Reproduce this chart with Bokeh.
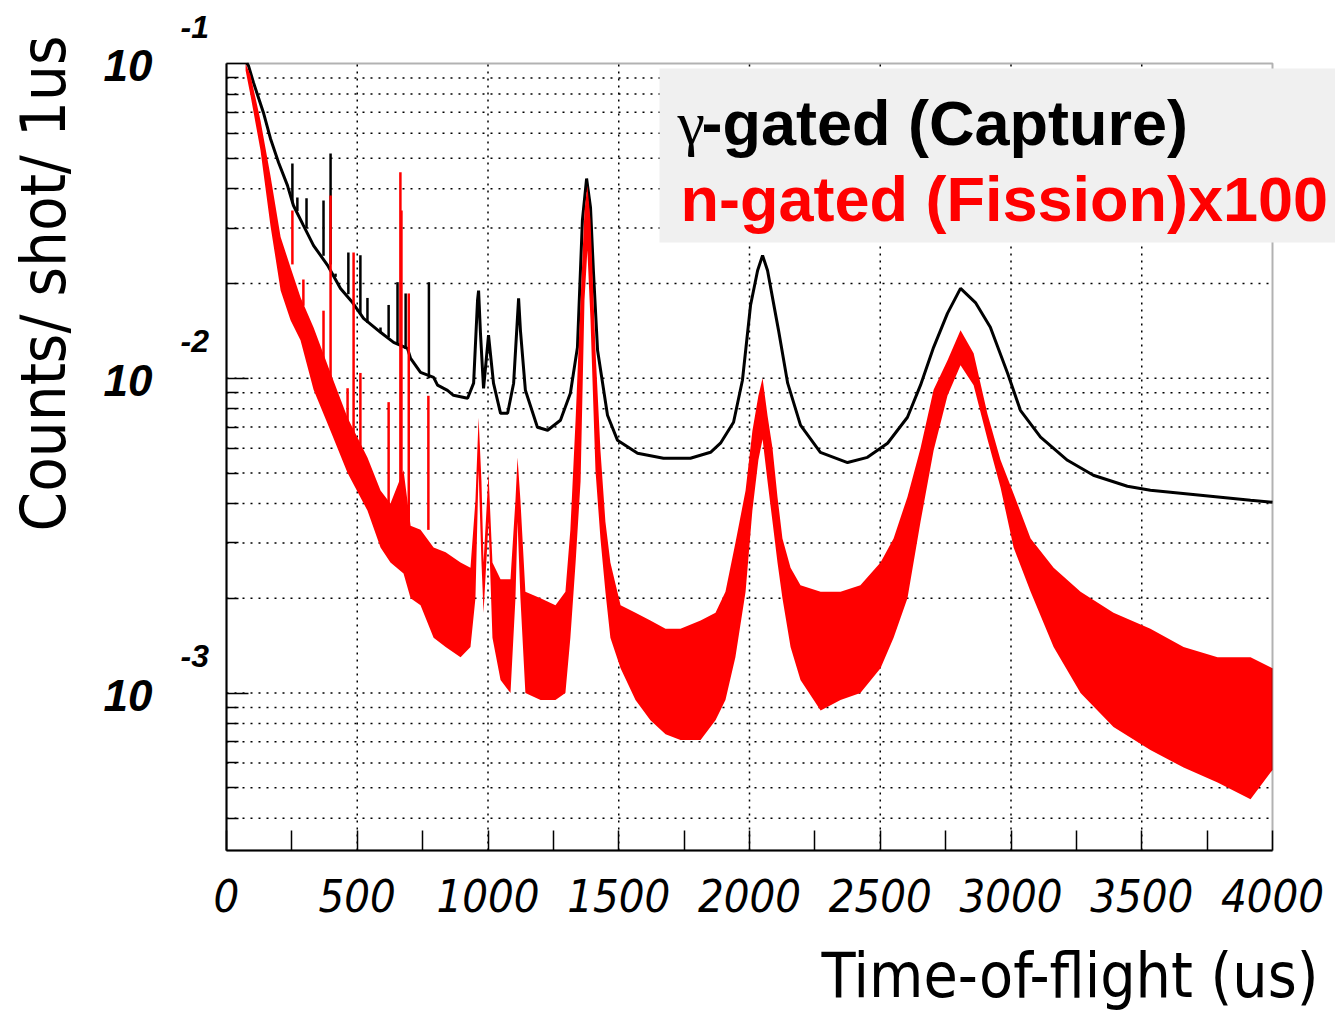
from bokeh.plotting import figure
from bokeh.models import Range1d, FixedTicker, Label, BoxAnnotation
from bokeh.embed import file_html
from bokeh.resources import INLINE
from math import pi

# ---------------- data ----------------
tof_major_ticks = [0, 500, 1000, 1500, 2000, 2500, 3000, 3500, 4000]
tof_minor_ticks = [250, 750, 1250, 1750, 2250, 2750, 3250, 3750]
y_major_ticks = [1e-3, 1e-2, 1e-1]
y_minor_ticks = [4e-4, 5e-4, 6e-4, 7e-4, 8e-4, 9e-4,
                 2e-3, 3e-3, 4e-3, 5e-3, 6e-3, 7e-3, 8e-3, 9e-3,
                 2e-2, 3e-2, 4e-2, 5e-2, 6e-2, 7e-2, 8e-2, 9e-2]
y_tick_exponents = ["-3", "-2", "-1"]

# gamma-gated (capture) spectrum
gamma_t = [78, 84, 103, 141, 168, 199, 233, 256, 294, 333, 386, 436, 482, 524,
           589, 639, 692, 704, 742, 792, 807, 845, 868, 922, 945, 960, 964, 971,
           983, 1002, 1021, 1048, 1075, 1098, 1117, 1124, 1143, 1189, 1228, 1277,
           1315, 1342, 1354, 1361, 1377, 1392, 1403, 1419, 1457, 1495, 1572, 1671,
           1774, 1851, 1889, 1939, 1973, 2004, 2031, 2050, 2069, 2092, 2111, 2146,
           2195, 2271, 2375, 2451, 2528, 2604, 2654, 2704, 2757, 2807, 2864, 2921,
           2987, 3036, 3113, 3216, 3315, 3445, 3533, 3725, 3916, 4000]
gamma_counts = [0.100, 0.0985, 0.0871, 0.0699, 0.0578, 0.0485, 0.0410, 0.0354,
                0.0306, 0.0264, 0.0229, 0.0193, 0.0174, 0.0155, 0.0140, 0.0130,
                0.01245, 0.01157, 0.01045, 0.01007, 0.00951, 0.00916, 0.00883,
                0.00864, 0.00965, 0.0177, 0.0190, 0.0140, 0.00929, 0.0137, 0.00965,
                0.00774, 0.00774, 0.00965, 0.01795, 0.0142, 0.00916, 0.00699,
                0.00684, 0.00736, 0.00896, 0.01254, 0.0225, 0.0318, 0.0431, 0.0349,
                0.0220, 0.01227, 0.00763, 0.00636, 0.00578, 0.00557, 0.00557,
                0.00582, 0.00622, 0.00725, 0.00986, 0.01706, 0.0220, 0.02457,
                0.0220, 0.0173, 0.0142, 0.00965, 0.0071, 0.00582, 0.0054, 0.00561,
                0.00622, 0.00752, 0.00951, 0.01254, 0.01608, 0.0193, 0.0174,
                0.01452, 0.01037, 0.00791, 0.0065, 0.00549, 0.00492, 0.00454,
                0.00441, 0.00425, 0.0041, 0.00404]
gamma_spike_t = [252, 271, 306, 371, 398, 417, 466, 512, 539, 589, 620, 654, 685, 774]
gamma_spike_base = [0.0360, 0.0340, 0.0300, 0.0245, 0.0230, 0.0210, 0.0185, 0.0160,
                    0.0150, 0.0140, 0.0135, 0.0128, 0.0124, 0.0100]
gamma_spike_top = [0.0481, 0.0375, 0.0373, 0.0367, 0.0518, 0.0215, 0.0251, 0.0246,
                   0.0180, 0.0145, 0.0171, 0.0202, 0.0186, 0.0202]

# n-gated (fission) x100 spectrum: noisy histogram, kept as its envelope
fission_t = [73, 92, 130, 168, 207, 245, 283, 333, 398, 463, 539, 589, 627, 677,
             704, 742, 792, 838, 895,
             933, 952, 964, 975, 983, 1002, 1017, 1048, 1086, 1105, 1113, 1124,
             1143, 1201, 1258, 1296, 1315, 1335, 1354, 1369, 1380, 1392, 1411,
             1430, 1449, 1468, 1507, 1564, 1621, 1679, 1736, 1813, 1870, 1908,
             1946, 1985, 2011, 2034, 2050, 2069, 2088, 2107, 2126, 2157, 2195,
             2272, 2348, 2424, 2501, 2551, 2604, 2654, 2704, 2757, 2807, 2857,
             2910, 2960, 3010, 3075, 3163, 3266, 3392, 3533, 3660, 3790, 3916, 4000]
fission_hi = [0.100, 0.0916, 0.0659, 0.0441, 0.0281, 0.0225, 0.0181, 0.0145,
              0.0104, 0.0075, 0.0056, 0.0044, 0.0040, 0.0051, 0.0034,
              0.0033, 0.0029, 0.0028, 0.0026, 0.0025, 0.0041, 0.0075, 0.0047,
              0.0026, 0.0050, 0.0026, 0.0023, 0.0023, 0.0041, 0.0056, 0.0041,
              0.0021, 0.0020, 0.0019, 0.0021, 0.0033, 0.0074, 0.0177, 0.0341,
              0.0410, 0.0318, 0.0123, 0.0059, 0.0035, 0.0026, 0.0019, 0.0018,
              0.0017, 0.0016, 0.0016, 0.0017, 0.0018, 0.0021, 0.0030, 0.0044,
              0.0068, 0.0088, 0.0100, 0.0076, 0.0060, 0.0042, 0.0031, 0.0025,
              0.0022, 0.0021, 0.0021, 0.0022, 0.0026, 0.0031, 0.0042, 0.0060,
              0.0092, 0.0114, 0.0142, 0.0120, 0.0077, 0.0055, 0.0043, 0.0031,
              0.0025, 0.0021, 0.0018, 0.0016, 0.0014, 0.0013, 0.0013, 0.0012]
fission_lo = [0.095, 0.0790, 0.0530, 0.0306, 0.0190, 0.0153, 0.0132, 0.0092,
              0.0068, 0.0050, 0.0038, 0.0029, 0.0026, 0.0024, 0.0020,
              0.0019, 0.0015, 0.0014, 0.0013, 0.0014, 0.0020, 0.0051, 0.0026,
              0.0018, 0.0035, 0.0015, 0.0011, 0.0010, 0.0020, 0.0035, 0.0020,
              0.0010, 0.00095, 0.00095, 0.0010, 0.0015, 0.0026, 0.0047, 0.0177,
              0.0255, 0.0153, 0.0051, 0.0031, 0.0021, 0.0015, 0.0012, 0.00095,
              0.00082, 0.00074, 0.00071, 0.00071, 0.00082, 0.00095, 0.0013,
              0.0021, 0.0038, 0.0055, 0.0064, 0.0047, 0.0035, 0.0026, 0.0020,
              0.0014, 0.0011, 0.00088, 0.00095, 0.0010, 0.0012, 0.0015, 0.0020,
              0.0035, 0.0059, 0.0088, 0.0110, 0.0095, 0.0064, 0.0045, 0.0029,
              0.0021, 0.0014, 0.0010, 0.00078, 0.00066, 0.00058, 0.00052,
              0.00046, 0.00057]
fission_spike_t = [252, 294, 371, 398, 463, 486, 512, 620, 665, 669, 697, 772]
fission_spike_base = [0.0230, 0.0170, 0.0095, 0.0090, 0.0060, 0.0060, 0.0050,
                      0.0040, 0.0040, 0.0040, 0.0035, 0.0033]
fission_spike_top = [0.0341, 0.0206, 0.0164, 0.0381, 0.0093, 0.0251, 0.0104,
                     0.0084, 0.0451, 0.0341, 0.0186, 0.0088]

# ---------------- layout (plot box position inside the 1335x1016 page) ----------
W, H = 1335, 1016
FL, FR, FT, FB = 226, 1272, 63, 850          # plot box in pixels
X0, X1 = 0, 4000                              # plot box in data
YLOG_TOP, YLOG_BOT = -1.0, -3.5
PX_PER_X = (FR - FL) / (X1 - X0)
PX_PER_DEC = (FB - FT) / (YLOG_TOP - YLOG_BOT)


def px2x(px):
    return X0 + (px - FL) / PX_PER_X


def py2y(py):
    return 10 ** (YLOG_TOP - (py - FT) / PX_PER_DEC)


def shift_y(val, dpx):
    # value dpx pixels above val (negative = below)
    return val * 10 ** (dpx / PX_PER_DEC)


NARROW = "DejaVu Sans Condensed, Liberation Sans"

# the frame spans the whole page; ranges are chosen so that the plot box sits
# where it does in the original, and the axes are pinned to the box edges
p = figure(width=W, height=H, y_axis_type="log",
           x_range=Range1d(px2x(0), px2x(W)), y_range=Range1d(py2y(H), py2y(0)),
           output_backend="svg", toolbar_location=None,
           min_border=0, min_border_left=0, min_border_right=0,
           min_border_top=0, min_border_bottom=0)
p.background_fill_color = "white"
p.border_fill_color = "white"
p.outline_line_color = None
p.xgrid.visible = False
p.ygrid.visible = False

Y_LO, Y_HI = 10 ** YLOG_BOT, 10 ** YLOG_TOP

# dotted grid inside the plot box (at the axis ticks)
vgrid_x = [t for t in tof_major_ticks if X0 < t < X1]
p.segment(x0=vgrid_x, y0=[Y_LO] * len(vgrid_x), x1=vgrid_x, y1=[Y_HI] * len(vgrid_x),
          line_color="black", line_width=1.5, line_dash="2 5")
hgrid_y = sorted([v for v in y_major_ticks + y_minor_ticks if Y_LO < v < Y_HI])
p.segment(x0=[X0] * len(hgrid_y), y0=hgrid_y, x1=[X1] * len(hgrid_y), y1=hgrid_y,
          line_color="black", line_width=1.5, line_dash="2 6")

# axes pinned to the plot box
p.xaxis.fixed_location = Y_LO
p.xaxis.bounds = (X0, X1)
p.yaxis.fixed_location = X0
p.yaxis.bounds = (Y_LO, Y_HI)
p.xaxis.ticker = FixedTicker(ticks=tof_major_ticks, minor_ticks=tof_minor_ticks)
p.yaxis.ticker = FixedTicker(ticks=y_major_ticks, minor_ticks=y_minor_ticks)
for ax in (p.xaxis, p.yaxis):
    ax.axis_line_color = "black"
    ax.axis_line_width = 2
    ax.major_tick_line_color = "black"
    ax.minor_tick_line_color = "black"
    ax.major_tick_line_width = 1.5
    ax.minor_tick_line_width = 1.5
    ax.major_tick_out = 0
    ax.minor_tick_out = 0
p.xaxis.major_tick_in = 20
p.xaxis.minor_tick_in = 20
p.yaxis.major_tick_in = 22
p.yaxis.minor_tick_in = 12
p.xaxis.major_label_text_font = NARROW
p.xaxis.major_label_text_font_style = "italic"
p.xaxis.major_label_text_font_size = "45px"
p.xaxis.major_label_text_color = "black"
p.xaxis.major_label_standoff = 28
p.yaxis.major_label_text_color = None
p.yaxis.major_label_text_font_size = "10px"

# data
p.line(gamma_t, gamma_counts, line_color="black", line_width=3)
p.segment(x0=gamma_spike_t, y0=gamma_spike_base, x1=gamma_spike_t, y1=gamma_spike_top,
          line_color="black", line_width=2.5)
p.varea(x=fission_t, y1=fission_lo, y2=fission_hi, fill_color="#ff0000")
p.segment(x0=fission_spike_t, y0=fission_spike_base, x1=fission_spike_t,
          y1=fission_spike_top, line_color="#ff0000", line_width=2.5)

# plot box border
p.add_layout(BoxAnnotation(left=X0, right=X1, bottom=Y_LO, top=Y_HI,
                           fill_alpha=0, line_color="black", line_width=2))

# y tick labels (ROOT style: 10 with a raised exponent)
for val, ex in zip(y_major_ticks, y_tick_exponents):
    p.add_layout(Label(x=px2x(152), y=shift_y(val, -2), text="10", text_align="right",
                       text_baseline="middle",
                       text_font="Liberation Sans", text_font_style="bold italic",
                       text_font_size="44px", text_color="black"))
    p.add_layout(Label(x=px2x(180), y=shift_y(val, 37), text=ex, text_align="left",
                       text_baseline="middle",
                       text_font="Liberation Sans", text_font_style="bold italic",
                       text_font_size="32px", text_color="black"))

# axis titles
p.add_layout(Label(x=px2x(1318), y=py2y(975), text="Time-of-flight (us)",
                   text_align="right", text_baseline="middle",
                   text_font=NARROW, text_font_size="62px", text_color="black"))
p.add_layout(Label(x=px2x(43), y=py2y(283), text="Counts/ shot/ 1us", angle=pi / 2,
                   text_align="center", text_baseline="middle",
                   text_font=NARROW, text_font_size="63px", text_color="black"))

# legend box
p.add_layout(BoxAnnotation(left=px2x(659), right=px2x(1345), top=py2y(68),
                           bottom=py2y(242), fill_color="#f0f0f0", fill_alpha=1.0,
                           line_color=None))
p.add_layout(Label(x=px2x(677), y=py2y(122), text="\u03b3", text_align="left",
                   text_baseline="middle", text_font="Liberation Serif",
                   text_font_size="62px", text_color="black"))
p.add_layout(Label(x=px2x(701), y=py2y(122), text="-gated (Capture)",
                   text_align="left", text_baseline="middle",
                   text_font="Liberation Sans", text_font_style="bold",
                   text_font_size="63px", text_color="black"))
p.add_layout(Label(x=px2x(680), y=py2y(198), text="n-gated (Fission)x100",
                   text_align="left", text_baseline="middle",
                   text_font="Liberation Sans", text_font_style="bold",
                   text_font_size="63px", text_color="#ff0000"))

open("out.html", "w").write(file_html(p, INLINE))
